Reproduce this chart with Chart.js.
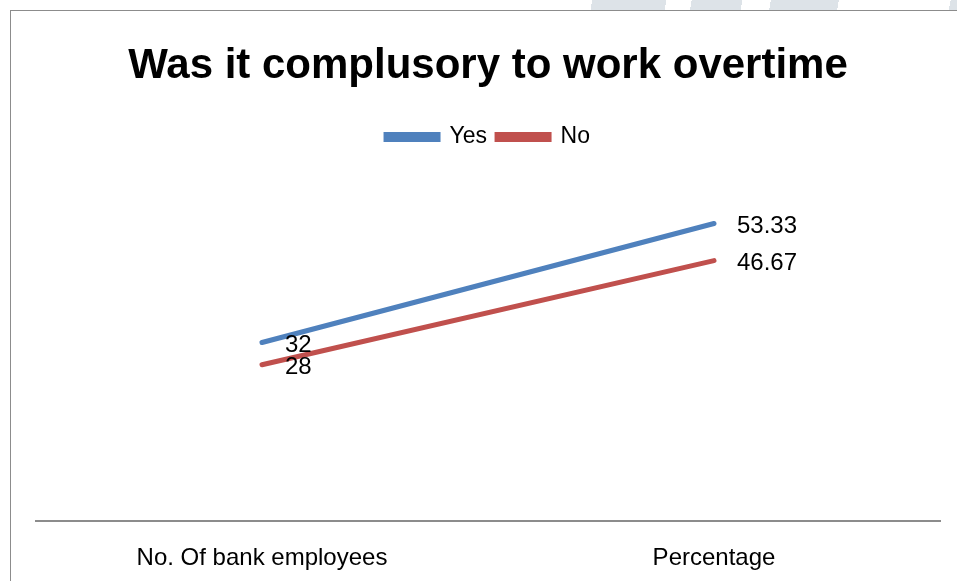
<!DOCTYPE html>
<html>
<head>
<meta charset="utf-8">
<script src="https://cdn.jsdelivr.net/npm/chart.js@4.4.0/dist/chart.umd.min.js"></script>
<style>
  html, body { margin: 0; padding: 0; background: #fff; overflow: hidden; }
  #wrap { position: absolute; left: 0; top: 0; width: 957px; height: 581px; }
  #mark { position: absolute; left: 580px; top: 0; width: 377px; height: 10px;
    background: linear-gradient(100deg, #fff 0 12px, #dde3e8 12px 85px, #fff 85px 110px,
      #dde3e8 110px 160px, #fff 160px 188px, #dde3e8 188px 255px, #fff 255px 365px, #dde3e8 365px); }
  #frame { position: absolute; left: 10px; top: 10px; width: 1000px; height: 1000px; border: 1px solid #8c8c8c; box-sizing: border-box; pointer-events: none; }
  canvas { position: absolute; left: 0; top: 0; }
</style>
</head>
<body>
<div id="wrap">
  <div id="mark"></div>
  <div id="frame"></div>
  <canvas id="line" width="957" height="581"></canvas>
</div>
<script>
var categories = ["No. Of bank employees", "Percentage"];
var yesValues = [32, 53.33];
var noValues = [28, 46.67];
var seriesNames = ["Yes", "No"];

var fontName = "'Liberation Sans', Arial, sans-serif";

// writes each value to the right of its point
var valueLabels = {
  id: "valueLabels",
  afterDatasetsDraw: function (chart) {
    var c = chart.ctx;
    c.save();
    c.font = "24px " + fontName;
    c.fillStyle = "#000";
    c.textAlign = "left";
    c.textBaseline = "middle";
    chart.data.datasets.forEach(function (ds, i) {
      chart.getDatasetMeta(i).data.forEach(function (pt, j) {
        c.fillText(String(ds.data[j]), pt.x + 23, pt.y + 3);
      });
    });
    c.restore();
  },
};

var ctx = document.getElementById("line").getContext("2d");
var myChart = new Chart(ctx, {
  type: "line",
  data: {
    labels: categories,
    datasets: [
      {
        label: seriesNames[0],
        data: yesValues,
        borderColor: "#4F81BD",
        backgroundColor: "#4F81BD",
        borderWidth: 5,
        pointRadius: 0,
        borderCapStyle: "round",
      },
      {
        label: seriesNames[1],
        data: noValues,
        borderColor: "#C0504D",
        backgroundColor: "#C0504D",
        borderWidth: 5,
        pointRadius: 0,
        borderCapStyle: "round",
      },
    ],
  },
  options: {
    responsive: false,
    animation: false,
    layout: { padding: { left: 36, right: 17, top: 0, bottom: 0 } },
    plugins: {
      title: {
        display: true,
        text: "Was it complusory to work overtime",
        color: "#000",
        font: { family: fontName, size: 42, weight: "bold" },
        padding: { top: 41, bottom: 24 },
      },
      legend: {
        display: true,
        labels: {
          color: "#000",
          font: { family: fontName, size: 23 },
          boxWidth: 52,
          boxHeight: 5,
          padding: 10,
        },
      },
      tooltip: { enabled: false },
    },
    scales: {
      x: {
        offset: true,
        grid: { display: false },
        border: { color: "#8c8c8c", width: 2 },
        ticks: { color: "#000", font: { family: fontName, size: 24 }, padding: 15 },
        afterFit: function (scale) {
          scale.height = 60;
        },
      },
      y: {
        display: false,
        min: 0,
        max: 65,
      },
    },
  },
  plugins: [valueLabels],
});
</script>
</body>
</html>
